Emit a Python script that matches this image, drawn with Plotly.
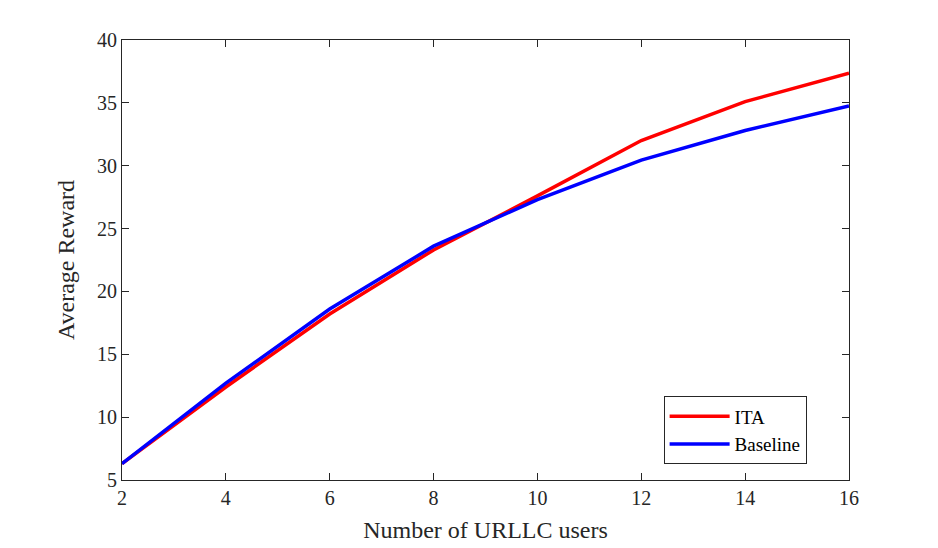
import plotly.graph_objects as go

users = [2, 4, 6, 8, 10, 12, 14, 16]
ita_reward = [6.3, 12.4, 18.2, 23.3, 27.6, 32.0, 35.1, 37.35]
baseline_reward = [6.3, 12.7, 18.6, 23.6, 27.3, 30.45, 32.8, 34.75]
x_ticks = [2, 4, 6, 8, 10, 12, 14, 16]
y_ticks = [5, 10, 15, 20, 25, 30, 35, 40]

FONT = "Liberation Serif"
AX = "#262626"

fig = go.Figure()
fig.add_trace(go.Scatter(x=users, y=ita_reward, mode="lines", name="ITA",
                         line=dict(color="#ff0000", width=3.5)))
fig.add_trace(go.Scatter(x=users, y=baseline_reward, mode="lines", name="Baseline",
                         line=dict(color="#0000ff", width=3.5)))

axis_common = dict(showgrid=False, zeroline=False, showline=True, linecolor=AX,
                   linewidth=1, mirror="ticks", ticks="inside", ticklen=7,
                   tickcolor=AX, tickwidth=1, automargin=False,
                   tickfont=dict(family=FONT, size=20, color=AX))

fig.update_layout(
    width=938, height=548,
    margin=dict(l=122, r=89, t=40, b=68),
    paper_bgcolor="white", plot_bgcolor="white",
    font=dict(family=FONT, color=AX),
    xaxis=dict(range=[2, 16], tickvals=x_ticks,
               title=dict(text="Number of URLLC users", font=dict(family=FONT, size=24, color=AX), standoff=13),
               **axis_common),
    yaxis=dict(range=[5, 40], tickvals=y_ticks,
               title=dict(text="Average Reward", font=dict(family=FONT, size=24, color=AX), standoff=15),
               **axis_common),
    legend=dict(x=0.745, y=0.19, xanchor="left", yanchor="top",
                bgcolor="white", bordercolor=AX, borderwidth=1,
                font=dict(family=FONT, size=19, color="black"),
                tracegroupgap=0, itemwidth=60),
)

fig.write_html("out.html")
